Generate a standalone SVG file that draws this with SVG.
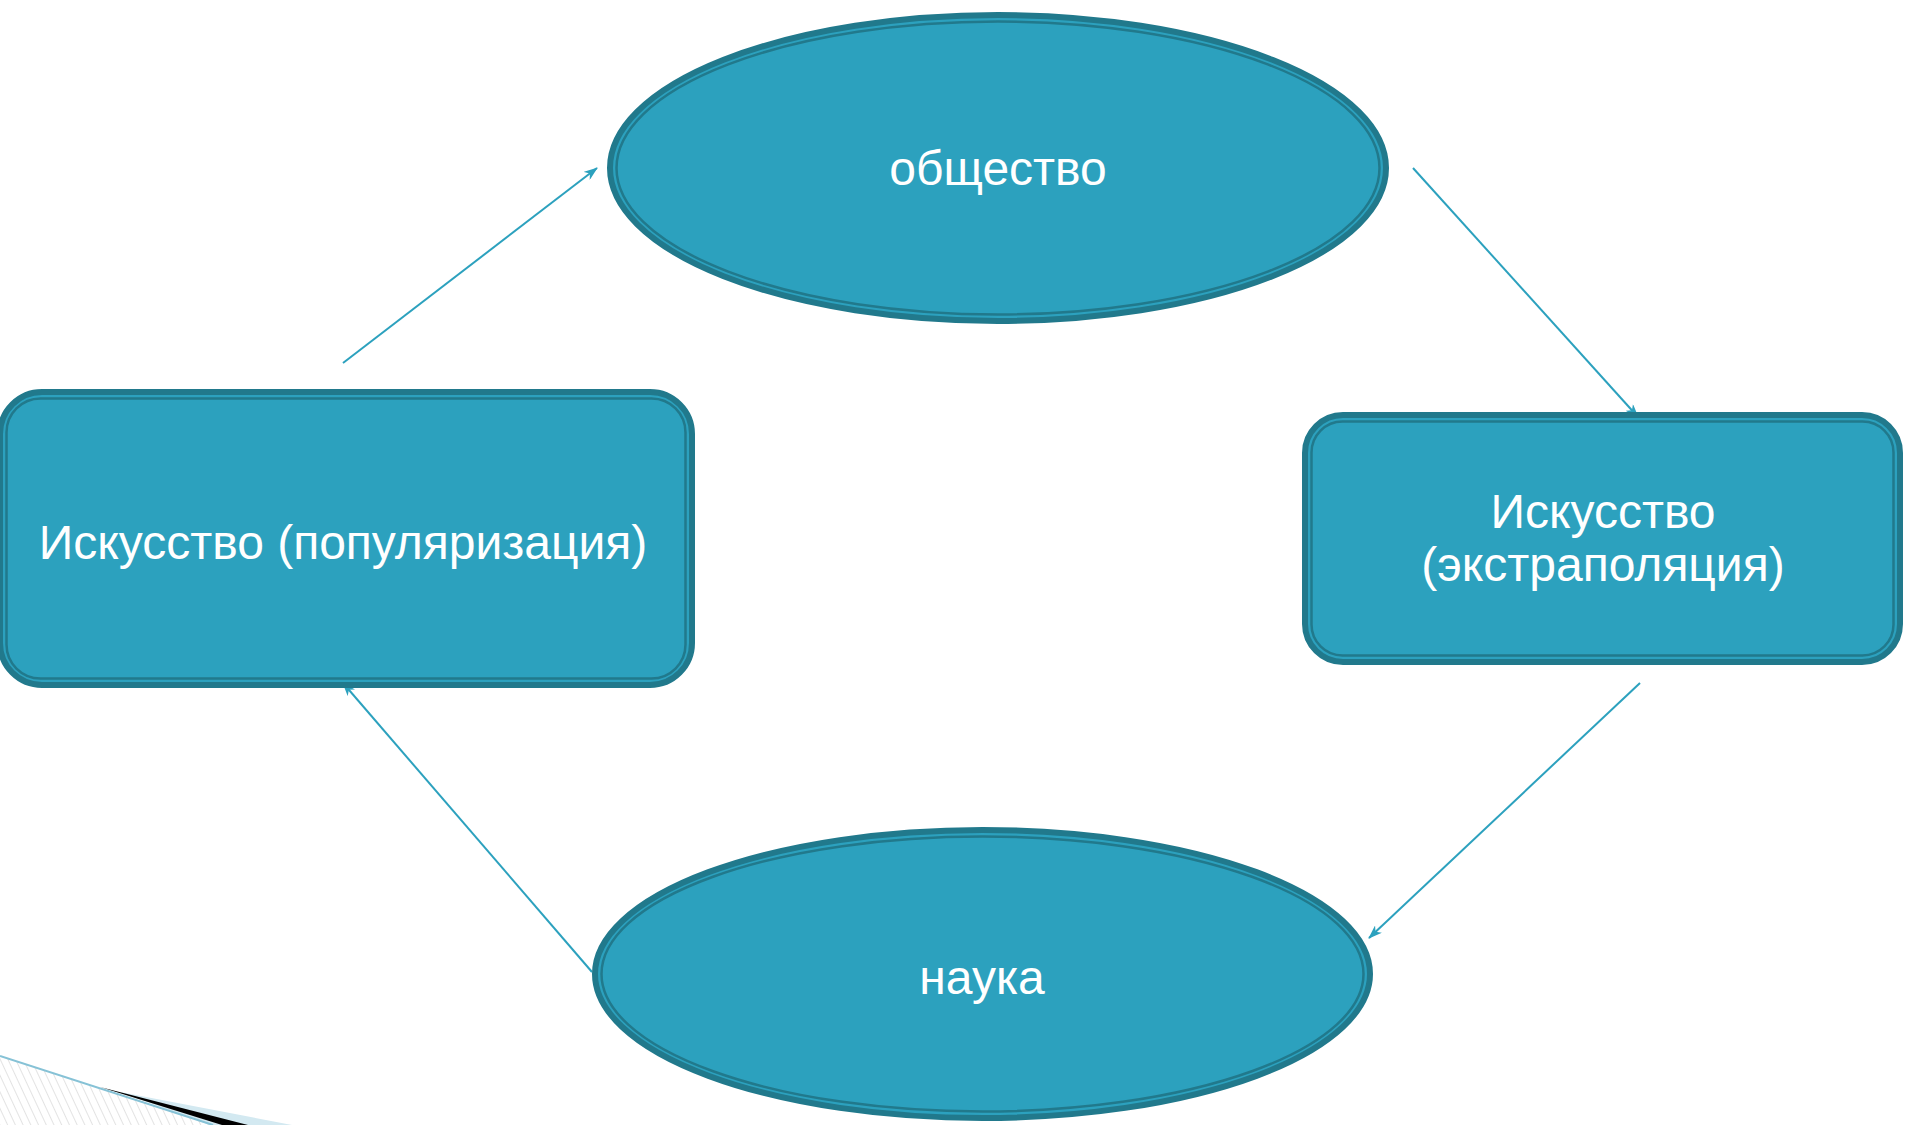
<svg xmlns="http://www.w3.org/2000/svg" width="1905" height="1125" viewBox="0 0 1905 1125">
<style>
.outer{fill:#2CA1BE;stroke:#21798C;stroke-width:6}
.inner{fill:none;stroke:#21798C;stroke-width:2.5}
.lbl{fill:#FFFFFF;font-family:"Liberation Sans",Arial,sans-serif;font-size:48px;text-anchor:middle}
.conn{stroke:#2CA1BE;stroke-width:2;fill:none;marker-end:url(#ah)}
</style>
<defs>
<marker id="ah" markerUnits="userSpaceOnUse" markerWidth="14" markerHeight="10" refX="13" refY="5" orient="auto">
<path d="M0,0 L14,5 L0,10 L4,5 z" fill="#2CA1BE"/>
</marker>
<pattern id="hatch" patternUnits="userSpaceOnUse" width="7" height="7" patternTransform="rotate(-25)">
<line x1="0" y1="0" x2="0" y2="7" stroke="#C8C8C8" stroke-width="1"/>
</pattern>
</defs>
<rect width="1905" height="1125" fill="#FFFFFF"/>
<g id="decor">
<polygon points="0,1056 213,1125 0,1125" fill="url(#hatch)"/>
<polygon points="120,1092 292,1125 210,1125" fill="#D3E9F1"/>
<polygon points="100,1087 248,1125 222,1125" fill="#000000"/>
<line x1="0" y1="1056" x2="213" y2="1125" stroke="#86C2D6" stroke-width="2"/>
</g>
<g id="connectors">
<line class="conn" x1="343" y1="363" x2="597" y2="168"/>
<line class="conn" x1="1413" y1="168" x2="1638" y2="417"/>
<line class="conn" x1="1640" y1="683" x2="1369" y2="938"/>
<line class="conn" x1="592" y1="972" x2="343" y2="683"/>
</g>
<g id="node-obshchestvo">
<ellipse class="outer" cx="998" cy="168" rx="388" ry="153"/>
<ellipse class="inner" cx="998" cy="168" rx="381.5" ry="146.5"/>
<text class="lbl" x="998" y="185">общество</text>
</g>
<g id="node-nauka">
<ellipse class="outer" cx="982.5" cy="974" rx="387.5" ry="144"/>
<ellipse class="inner" cx="982.5" cy="974" rx="381" ry="137.5"/>
<text class="lbl" x="982" y="994">наука</text>
</g>
<g id="node-populyarizatsiya">
<rect class="outer" x="0" y="392" width="692" height="293" rx="42"/>
<rect class="inner" x="6.5" y="398.5" width="679" height="280" rx="34"/>
<text class="lbl" x="343" y="559">Искусство (популяризация)</text>
</g>
<g id="node-ekstrapolyatsiya">
<rect class="outer" x="1305" y="415" width="595" height="247" rx="38"/>
<rect class="inner" x="1311.5" y="421.5" width="582" height="234" rx="31"/>
<text class="lbl" x="1603" y="528">Искусство</text>
<text class="lbl" x="1603" y="581">(экстраполяция)</text>
</g>
</svg>
